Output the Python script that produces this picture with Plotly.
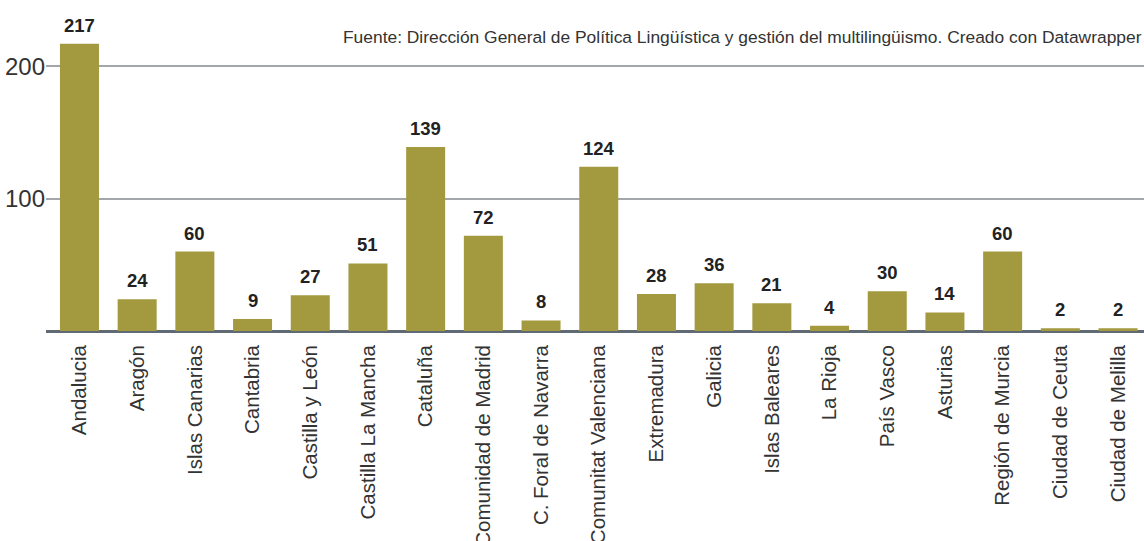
import plotly.graph_objects as go

regiones = ["Andalucia", "Aragón", "Islas Canarias", "Cantabria", "Castilla y León",
            "Castilla La Mancha", "Cataluña", "Comunidad de Madrid", "C. Foral de Navarra",
            "Comunitat Valenciana", "Extremadura", "Galicia", "Islas Baleares", "La Rioja",
            "País Vasco", "Asturias", "Región de Murcia", "Ciudad de Ceuta", "Ciudad de Melilla"]
valores = [217, 24, 60, 9, 27, 51, 139, 72, 8, 124, 28, 36, 21, 4, 30, 14, 60, 2, 2]
y_ticks = [100, 200]

fuente = "Fuente: Dirección General de Política Lingüística y gestión del multilingüismo. Creado con Datawrapper"

BAR = "#a39a3f"
TXT = "#333333"
FONT = "Liberation Sans, Arial, sans-serif"

fig = go.Figure()
fig.add_trace(go.Bar(
    x=list(range(len(regiones))), y=valores,
    marker=dict(color=BAR, line=dict(width=0)),
    hoverinfo="skip",
))

for i, v in enumerate(valores):
    fig.add_annotation(x=i, y=v, text=f"<b>{v}</b>", showarrow=False,
                       yanchor="bottom", yshift=6,
                       font=dict(family=FONT, size=18.5, color="#222222"))

fig.add_annotation(xref="paper", yref="paper", x=1.0, y=1.0, yshift=-37,
                   xanchor="right", yanchor="middle", text=fuente, showarrow=False,
                   font=dict(family=FONT, size=17.4, color=TXT))

fig.update_layout(
    width=1144, height=541,
    margin=dict(l=46, r=0, t=0, b=210, autoexpand=False),
    paper_bgcolor="white", plot_bgcolor="white",
    bargap=0.324, showlegend=False,
    font=dict(family=FONT, color=TXT),
)
fig.update_xaxes(
    tickmode="array", tickvals=list(range(len(regiones))), ticktext=regiones,
    tickangle=-90, tickfont=dict(family=FONT, size=20.5, color=TXT),
    range=[-0.58, 18.45], showgrid=False, showline=False, ticks="",
    ticklabelstandoff=9, automargin=False,
)
fig.update_yaxes(
    range=[0, 250], tickvals=y_ticks, ticktext=[str(t) for t in y_ticks],
    tickfont=dict(family=FONT, size=24, color=TXT),
    showgrid=True, gridcolor="#a3a7ab", gridwidth=1.5,
    zeroline=True, zerolinecolor="#5f6a74", zerolinewidth=2.5,
    showline=False, ticks="", ticklabelstandoff=0, automargin=False,
)

fig.write_html("out.html")
